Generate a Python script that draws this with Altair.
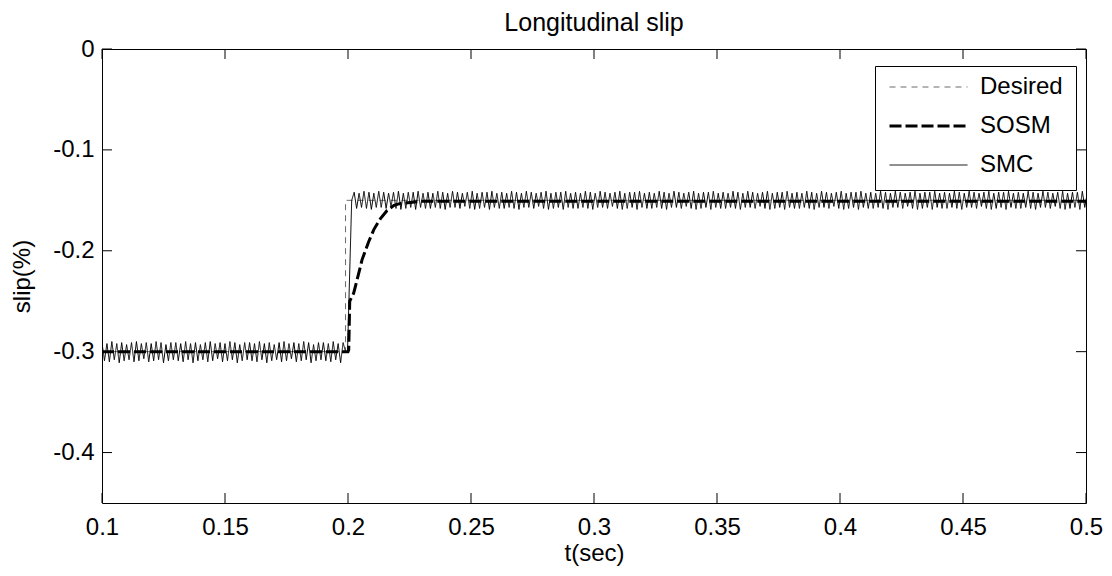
import altair as alt
import numpy as np
import pandas as pd

# ---------------- data ----------------
x_ticks = [0.1, 0.15, 0.2, 0.25, 0.3, 0.35, 0.4, 0.45, 0.5]
y_ticks = [0, -0.1, -0.2, -0.3, -0.4]

series_names = ["Desired", "SOSM", "SMC"]

desired_t = [0.1, 0.199, 0.199, 0.5]
desired_v = [-0.3, -0.3, -0.15, -0.15]

sosm_t = [0.1, 0.2, 0.2003, 0.2007, 0.2023, 0.2044, 0.2057, 0.2084, 0.2105,
          0.2132, 0.2159, 0.2187, 0.2214, 0.23, 0.5]
sosm_v = [-0.3, -0.3, -0.298, -0.250, -0.242, -0.222, -0.209, -0.191, -0.179,
          -0.168, -0.160, -0.155, -0.153, -0.151, -0.151]

# SMC chattering, sampled every 1 ms
smc_pre_start = 0.100
smc_pre = [
    -0.291, -0.309, -0.292, -0.310, -0.290, -0.308, -0.292, -0.311, -0.291, -0.309,
    -0.293, -0.308, -0.291, -0.310, -0.290, -0.309, -0.292, -0.307, -0.291, -0.310,
    -0.292, -0.309, -0.290, -0.308, -0.291, -0.311, -0.293, -0.309, -0.291, -0.308,
    -0.291, -0.309, -0.292, -0.310, -0.290, -0.308, -0.292, -0.311, -0.291, -0.309,
    -0.293, -0.308, -0.291, -0.310, -0.290, -0.309, -0.292, -0.307, -0.291, -0.310,
    -0.292, -0.309, -0.290, -0.308, -0.291, -0.311, -0.293, -0.309, -0.291, -0.308,
    -0.291, -0.309, -0.292, -0.310, -0.290, -0.308, -0.292, -0.311, -0.291, -0.309,
    -0.293, -0.308, -0.291, -0.310, -0.290, -0.309, -0.292, -0.307, -0.291, -0.310,
    -0.292, -0.309, -0.290, -0.308, -0.291, -0.311, -0.293, -0.309, -0.291, -0.308,
    -0.291, -0.309, -0.292, -0.310, -0.290, -0.308, -0.292, -0.311, -0.291, -0.300,
]
smc_jump_t = [0.1998, 0.2015]
smc_jump_v = [-0.300, -0.150]
smc_post_start = 0.2025
smc_post = [
    -0.142, -0.158, -0.143, -0.157, -0.141, -0.158, -0.142, -0.159, -0.143, -0.157,
    -0.141, -0.157, -0.142, -0.158, -0.143, -0.156, -0.142, -0.158, -0.141, -0.159,
    -0.143, -0.158, -0.142, -0.157, -0.142, -0.159, -0.141, -0.157, -0.143, -0.158,
    -0.142, -0.158, -0.143, -0.157, -0.141, -0.158, -0.142, -0.159, -0.143, -0.157,
    -0.141, -0.157, -0.142, -0.158, -0.143, -0.156, -0.142, -0.158, -0.141, -0.159,
    -0.143, -0.158, -0.142, -0.157, -0.142, -0.159, -0.141, -0.157, -0.143, -0.158,
    -0.142, -0.158, -0.143, -0.157, -0.141, -0.158, -0.142, -0.159, -0.143, -0.157,
    -0.141, -0.157, -0.142, -0.158, -0.143, -0.156, -0.142, -0.158, -0.141, -0.159,
    -0.143, -0.158, -0.142, -0.157, -0.142, -0.159, -0.141, -0.157, -0.143, -0.158,
    -0.142, -0.158, -0.143, -0.157, -0.141, -0.158, -0.142, -0.159, -0.143, -0.157,
    -0.141, -0.157, -0.142, -0.158, -0.143, -0.156, -0.142, -0.158, -0.141, -0.159,
    -0.143, -0.158, -0.142, -0.157, -0.142, -0.159, -0.141, -0.157, -0.143, -0.158,
    -0.142, -0.158, -0.143, -0.157, -0.141, -0.158, -0.142, -0.159, -0.143, -0.157,
    -0.141, -0.157, -0.142, -0.158, -0.143, -0.156, -0.142, -0.158, -0.141, -0.159,
    -0.143, -0.158, -0.142, -0.157, -0.142, -0.159, -0.141, -0.157, -0.143, -0.158,
    -0.142, -0.158, -0.143, -0.157, -0.141, -0.158, -0.142, -0.159, -0.143, -0.157,
    -0.141, -0.157, -0.142, -0.158, -0.143, -0.156, -0.142, -0.158, -0.141, -0.159,
    -0.143, -0.158, -0.142, -0.157, -0.142, -0.159, -0.141, -0.157, -0.143, -0.158,
    -0.142, -0.158, -0.143, -0.157, -0.141, -0.158, -0.142, -0.159, -0.143, -0.157,
    -0.141, -0.157, -0.142, -0.158, -0.143, -0.156, -0.142, -0.158, -0.141, -0.159,
    -0.143, -0.158, -0.142, -0.157, -0.142, -0.159, -0.141, -0.157, -0.143, -0.158,
    -0.142, -0.158, -0.143, -0.157, -0.141, -0.158, -0.142, -0.159, -0.143, -0.157,
    -0.141, -0.157, -0.142, -0.158, -0.143, -0.156, -0.142, -0.158, -0.141, -0.159,
    -0.143, -0.158, -0.142, -0.157, -0.142, -0.159, -0.141, -0.157, -0.143, -0.158,
    -0.142, -0.158, -0.143, -0.157, -0.141, -0.158, -0.142, -0.159, -0.143, -0.157,
    -0.141, -0.157, -0.142, -0.158, -0.143, -0.156, -0.142, -0.158, -0.141, -0.159,
    -0.143, -0.158, -0.142, -0.157, -0.142, -0.159, -0.141, -0.157, -0.143, -0.158,
    -0.142, -0.158, -0.143, -0.157, -0.141, -0.158, -0.142, -0.159, -0.143, -0.157,
    -0.141, -0.157, -0.142, -0.158, -0.143, -0.156, -0.142, -0.158, -0.141, -0.159,
    -0.143, -0.158, -0.142, -0.157, -0.142, -0.159, -0.141, -0.157, -0.143, -0.158,
]
smc_step = 0.001

# ---------------- build table ----------------
smc_t = (list(np.round(smc_pre_start + smc_step * np.arange(len(smc_pre)), 4))
         + smc_jump_t
         + list(np.round(smc_post_start + smc_step * np.arange(len(smc_post)), 4)))
smc_v = smc_pre + smc_jump_v + smc_post

frames = []
for name, ts, vs in [("Desired", desired_t, desired_v),
                     ("SOSM", sosm_t, sosm_v),
                     ("SMC", smc_t, smc_v)]:
    frames.append(pd.DataFrame({"t": ts, "v": vs, "series": name,
                                "i": range(len(ts))}))
df = pd.concat(frames, ignore_index=True)

W, H = 984, 454
FONT = "Liberation Sans"
FS = 24

xscale = alt.Scale(domain=[0.1, 0.5], nice=False, zero=False)
yscale = alt.Scale(domain=[-0.45, 0], nice=False, zero=False)
xaxis = alt.Axis(values=x_ticks, labelExpr="'' + datum.value", ticks=False,
                 tickSize=0, domain=False, grid=False, labelFontSize=FS,
                 labelPadding=12, titleFontSize=FS, titleFontWeight="normal",
                 titlePadding=2, labelColor="black", titleColor="black",
                 labelFlush=False)
yaxis = alt.Axis(values=y_ticks, labelExpr="'' + datum.value", ticks=False,
                 tickSize=0, domain=False, grid=False, labelFontSize=FS,
                 labelPadding=8, titleFontSize=FS, titleFontWeight="normal",
                 titlePadding=18, labelColor="black", titleColor="black",
                 labelFlush=False)

x_enc = alt.X("t:Q", scale=xscale, axis=xaxis, title="t(sec)")
y_enc = alt.Y("v:Q", scale=yscale, axis=yaxis, title="slip(%)")

leg = alt.Legend(orient="none", legendX=773, legendY=17, title=None,
                 padding=13, rowPadding=15, clipHeight=16, symbolSize=6084,
                 labelFontSize=FS, labelFont=FONT, labelOffset=11,
                 labelColor="black", strokeColor="black", fillColor="white",
                 symbolType="stroke", labelLimit=300)

lines = alt.Chart(df).mark_line(clip=True).encode(
    x=x_enc,
    y=y_enc,
    order=alt.Order("i:Q"),
    color=alt.Color("series:N",
                    scale=alt.Scale(domain=series_names,
                                    range=["#6b6b6b", "#000000", "#000000"]),
                    legend=leg),
    strokeDash=alt.StrokeDash("series:N",
                              scale=alt.Scale(domain=series_names,
                                              range=[[6, 5], [12, 4], [1, 0]]),
                              legend=leg),
    strokeWidth=alt.StrokeWidth("series:N",
                                scale=alt.Scale(type="ordinal",
                                                domain=series_names,
                                                range=[1, 3, 1]),
                                legend=leg),
)

xt = pd.DataFrame({"t": x_ticks})
yt = pd.DataFrame({"v": y_ticks})
tick_len = 10
tb = alt.Chart(xt).mark_rule(color="black", strokeWidth=1).encode(
    x=x_enc, y=alt.value(H), y2=alt.value(H - tick_len))
tt = alt.Chart(xt).mark_rule(color="black", strokeWidth=1).encode(
    x=x_enc, y=alt.value(0), y2=alt.value(tick_len))
tl = alt.Chart(yt).mark_rule(color="black", strokeWidth=1).encode(
    y=y_enc, x=alt.value(0), x2=alt.value(tick_len))
tr = alt.Chart(yt).mark_rule(color="black", strokeWidth=1).encode(
    y=y_enc, x=alt.value(W), x2=alt.value(W - tick_len))

chart = alt.layer(tb, tt, tl, tr, lines).properties(
    width=W, height=H,
    title=alt.Title("Longitudinal slip", fontSize=25, fontWeight="normal",
                    font=FONT, color="black", anchor="middle", offset=1),
    autosize=alt.AutoSizeParams(type="none"),
    padding={"left": 94, "top": 41, "right": 18, "bottom": 65},
).configure(font=FONT, background="white").configure_view(
    stroke="black", strokeWidth=1
)

chart.save("out.html", embed_options={"renderer": "svg", "actions": False})
